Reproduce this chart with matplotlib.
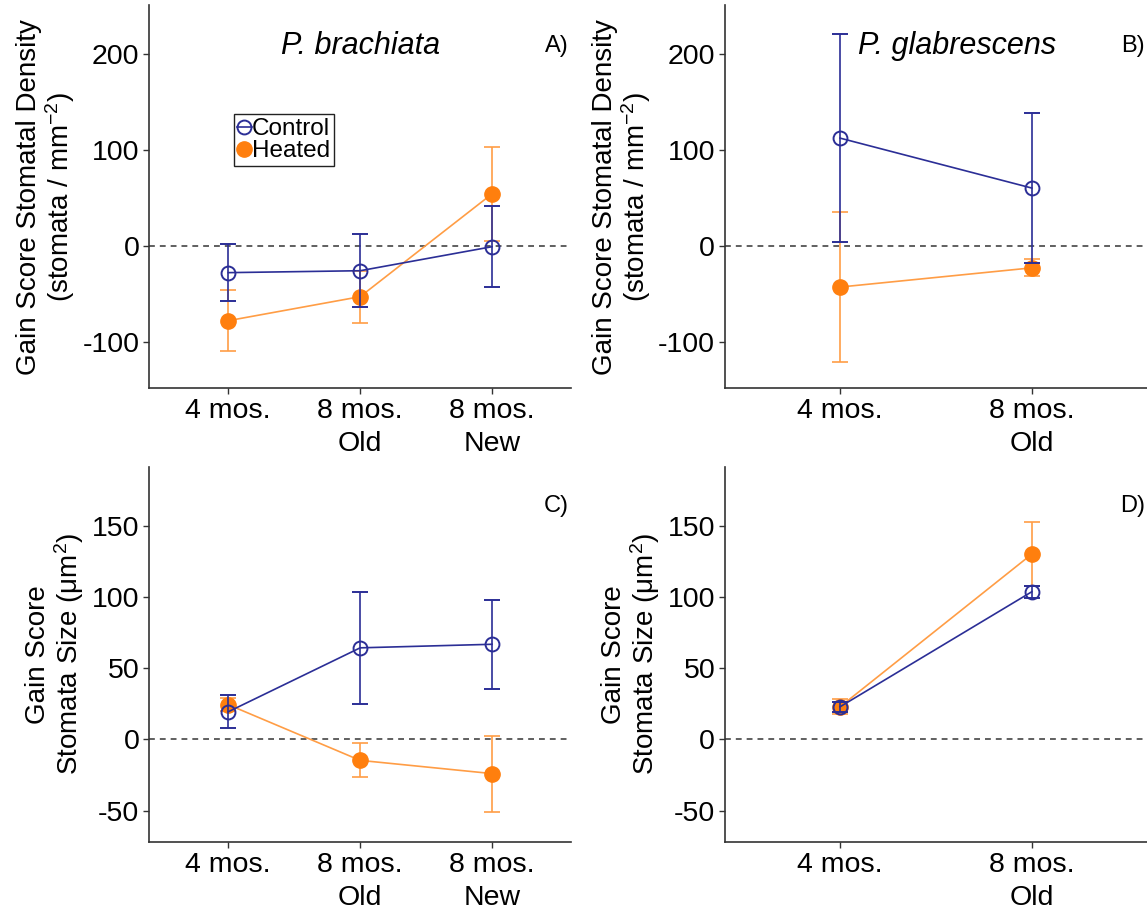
import matplotlib

matplotlib.use("Agg")
import matplotlib.pyplot as plt
from matplotlib.lines import Line2D
import numpy as np

plt.rcParams["font.family"] = ["Liberation Sans", "DejaVu Sans"]
plt.rcParams["mathtext.default"] = "regular"
plt.rcParams["axes.unicode_minus"] = False

NAVY = "#2b2e96"
ORANGE = "#ff7f0e"
ORANGE_LT = "#ff9d45"
AXIS = "#333333"

# ---- data ---------------------------------------------------------------
labels_pb = ["4 mos.", "8 mos.\nOld", "8 mos.\nNew"]
labels_pg = ["4 mos.", "8 mos.\nOld"]

# stomatal density gain score
dens_pb_ctrl = [-28, -26, -1]
dens_pb_ctrl_err = [30, 38, 42]
dens_pb_heat = [-78, -53, 54]
dens_pb_heat_err = [32, 27, 49]

dens_pg_ctrl = [112, 60]
dens_pg_ctrl_err = [108, 78]
dens_pg_heat = [-43, -23]
dens_pg_heat_err = [78, 9]

# stomata size gain score
size_pb_ctrl = [19.5, 64.5, 67]
size_pb_ctrl_err = [11.5, 39.5, 31.5]
size_pb_heat = [24.5, -14.7, -24]
size_pb_heat_err = [4.5, 12, 26.8]

size_pg_ctrl = [23, 104]
size_pg_ctrl_err = [3.6, 4.2]
size_pg_heat = [23, 130.5]
size_pg_heat_err = [5.4, 22.5]


def draw(ax, labels, ctrl, ctrl_err, heat, heat_err, ylim, yticks):
    x = np.arange(len(labels))
    ax.axhline(0, color="#444444", lw=1.2, ls=(0, (3.5, 3)), zorder=1)
    ax.errorbar(x, ctrl, yerr=ctrl_err, color=NAVY, ecolor=NAVY, lw=1.2,
                elinewidth=1.2, capsize=6, capthick=1.2, marker="o", ms=10,
                mfc="none", mec=NAVY, mew=1.4, zorder=3)
    ax.errorbar(x, heat, yerr=heat_err, color=ORANGE_LT, ecolor=ORANGE_LT, lw=1.2,
                elinewidth=1.2, capsize=6, capthick=1.2, marker="o", ms=11,
                mfc=ORANGE, mec=ORANGE, zorder=2)
    ax.set_xlim(-0.6, len(labels) - 0.4)
    ax.set_ylim(*ylim)
    ax.set_yticks(yticks)
    ax.set_xticks(x)
    ax.set_xticklabels(labels, linespacing=1.35)
    ax.tick_params(axis="both", labelsize=20.5, colors="black", length=4,
                   width=1, pad=3)
    ax.tick_params(axis="both", color=AXIS)
    for s in ("top", "right"):
        ax.spines[s].set_visible(False)
    for s in ("left", "bottom"):
        ax.spines[s].set_color(AXIS)
        ax.spines[s].set_linewidth(1.2)


fig = plt.figure(figsize=(11.47, 9.15), dpi=100)
axA = fig.add_axes([0.130, 0.576, 0.368, 0.418])
axB = fig.add_axes([0.632, 0.576, 0.368, 0.418])
axC = fig.add_axes([0.130, 0.080, 0.368, 0.410])
axD = fig.add_axes([0.632, 0.080, 0.368, 0.410])

draw(axA, labels_pb, dens_pb_ctrl, dens_pb_ctrl_err, dens_pb_heat, dens_pb_heat_err,
     (-148, 250), [-100, 0, 100, 200])
draw(axB, labels_pg, dens_pg_ctrl, dens_pg_ctrl_err, dens_pg_heat, dens_pg_heat_err,
     (-148, 250), [-100, 0, 100, 200])
draw(axC, labels_pb, size_pb_ctrl, size_pb_ctrl_err, size_pb_heat, size_pb_heat_err,
     (-72, 192), [-50, 0, 50, 100, 150])
draw(axD, labels_pg, size_pg_ctrl, size_pg_ctrl_err, size_pg_heat, size_pg_heat_err,
     (-72, 192), [-50, 0, 50, 100, 150])

dens_lab = "Gain Score Stomatal Density\n(stomata / mm$^{-2}$)"
size_lab = "Gain Score\nStomata Size (\u03bcm$^{2}$)"
for ax in (axA, axB):
    ax.set_ylabel(dens_lab, fontsize=20, labelpad=4, linespacing=1.05)
for ax in (axC, axD):
    ax.set_ylabel(size_lab, fontsize=20, labelpad=4, linespacing=1.05)

axA.text(0.5, 0.895, "P. brachiata", transform=axA.transAxes, fontsize=22,
         style="italic", ha="center", va="center")
axB.text(0.55, 0.895, "P. glabrescens", transform=axB.transAxes, fontsize=22,
         style="italic", ha="center", va="center")
for ax, tag in ((axA, "A)"), (axB, "B)"), (axC, "C)"), (axD, "D)")):
    ax.text(0.995, 0.895, tag, transform=ax.transAxes, fontsize=17,
            ha="right", va="center")

handles = [
    Line2D([], [], color=NAVY, lw=1.2, marker="o", ms=10, mfc="none",
           mec=NAVY, mew=1.4, label="Control"),
    Line2D([], [], color=ORANGE, lw=0, marker="o", ms=11, mfc=ORANGE,
           mec=ORANGE, label="Heated"),
]
leg = axA.legend(handles=handles, loc="upper left", bbox_to_anchor=(0.2, 0.715),
                 fontsize=17.5, handlelength=0.6, handletextpad=0.0, borderpad=0.15,
                 labelspacing=0.0, borderaxespad=0, fancybox=False,
                 framealpha=1)
leg.get_frame().set_edgecolor("#222222")
leg.get_frame().set_linewidth(1.0)

fig.savefig("out.png", dpi=100)
